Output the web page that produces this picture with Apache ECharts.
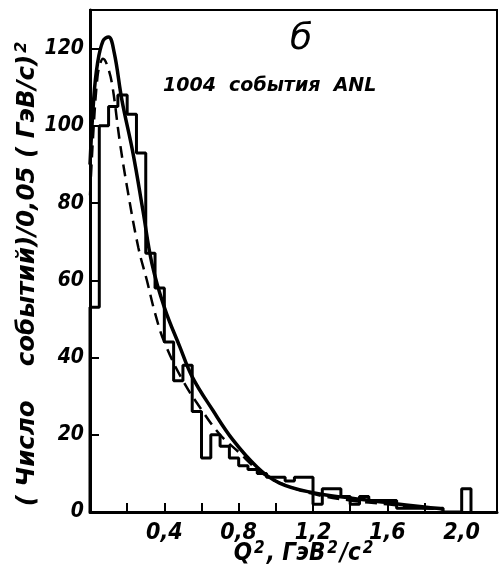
<!DOCTYPE html>
<html><head><meta charset="utf-8">
<script src="https://cdn.jsdelivr.net/npm/echarts@6/dist/echarts.min.js"></script>
<style>html,body{margin:0;padding:0;background:#fff}#c{width:500px;height:569px}</style>
</head><body><div id="c"></div>
<script>
// ---- data ----
const binWidth = 0.05;
const histCounts = [53,100,105,108,103,93,67,58,44,34,38,26,14,20,17,14,12,11,10,9,9,8,9,9,2,6,6,4,2,4,3,3,3,1,1,1,1,1,0,0,6];
const solidCurve = [[0,90],[0.02,107],[0.04,116],[0.07,122],[0.1,123],[0.13,119],[0.172,106.6],[0.231,93],[0.285,78],[0.333,64.4],[0.4,53],[0.484,42.7],[0.55,35],[0.66,26.4],[0.77,18.6],[0.9,11.6],[1.02,7.5],[1.2,5],[1.4,3.6],[1.6,2.4],[1.8,1.3],[1.9,0.8]];
const dashedCurve = [[0,82],[0.02,100],[0.04,112.6],[0.054,116],[0.07,117.4],[0.09,116],[0.118,111],[0.16,96],[0.2,84],[0.26,68.5],[0.306,60],[0.35,51.5],[0.4,44],[0.5,34],[0.6,26.5],[0.7,20],[0.8,15.5],[0.9,11],[1.0,8],[1.2,4.7],[1.4,3],[1.6,2],[1.8,1],[1.9,0.7]];
const xLabelTicks = [0.4,0.8,1.2,1.6,2.0];
const yLabelTicks = [0,20,40,60,80,100,120];
const panelLabel = 'б';
const noteText = '1004  события  ANL';

// ---- build histogram step line ----
const histData = [[0,0]];
histCounts.forEach((v,i)=>histData.push([+(i*binWidth).toFixed(3), v]));
const lastEdge = +(histCounts.length*binWidth).toFixed(3);
histData.push([lastEdge, histCounts[histCounts.length-1]]);
histData.push([lastEdge, 0]);

const FN = '"Liberation Sans Narrow","DejaVu Sans Condensed",sans-serif';
const FC = '"DejaVu Sans Condensed","DejaVu Sans",sans-serif';
const FW = '"DejaVu Sans",sans-serif';
const near = (v, arr) => arr.some(t => Math.abs(t - v) < 1e-6);

const chart = echarts.init(document.getElementById('c'), null, {renderer:'canvas'});
chart.setOption({
  backgroundColor:'#fff',
  animation:false,
  grid:{left:90, right:3, top:10, bottom:57, outerBoundsMode:'none', containLabel:false, show:true, borderColor:'#000', borderWidth:2, backgroundColor:'transparent'},
  xAxis:{
    type:'value', min:0, max:2.19, interval:0.2,
    splitLine:{show:false},
    axisLine:{lineStyle:{color:'#000', width:3}},
    axisTick:{inside:true, length:9, lineStyle:{color:'#000', width:2}},
    axisLabel:{margin:10, color:'#000', fontFamily:FN, fontStyle:'italic', fontWeight:'bold', fontSize:23,
      formatter:v=> near(v, xLabelTicks) ? v.toFixed(1).replace('.',',') : ''},
    name:'{b|Q}{s|2}{b|, ГэВ}{s|2}{b|/с}{s|2}', nameLocation:'middle', nameGap:28, nameMoveOverlap:false,
    nameTextStyle:{padding:[0,0,0,22], rich:{
      b:{fontFamily:FC, fontStyle:'italic', fontWeight:'bold', fontSize:24, color:'#000', verticalAlign:'bottom'},
      s:{fontFamily:FC, fontStyle:'italic', fontWeight:'bold', fontSize:17, color:'#000', verticalAlign:'top', padding:[0,2,9,2]}
    }}
  },
  yAxis:{
    type:'value', min:0, max:130, interval:20,
    splitLine:{show:false},
    axisLine:{lineStyle:{color:'#000', width:3}},
    axisTick:{inside:true, length:9, lineStyle:{color:'#000', width:2}},
    axisLabel:{margin:6, color:'#000', fontFamily:FN, fontStyle:'italic', fontWeight:'bold', fontSize:21,
      formatter:v=> near(v, yLabelTicks) ? String(v) : ''},
    name:'{b|( Число    событий)/0,05 ( ГэВ/с)}{s|2}', nameLocation:'middle', nameGap:48, nameRotate:90, nameMoveOverlap:false,
    nameTextStyle:{padding:[0,26,0,0], rich:{
      b:{fontFamily:FW, fontStyle:'italic', fontWeight:'bold', fontSize:24.5, color:'#000'},
      s:{fontFamily:FW, fontStyle:'italic', fontWeight:'bold', fontSize:16, color:'#000', padding:[0,0,12,2]}
    }}
  },
  graphic:[
    {type:'text', left:290, top:22, style:{text:panelLabel, fontFamily:FW, fontStyle:'italic', fontSize:36, fill:'#000'}},
    {type:'text', left:163, top:77, style:{text:noteText, fontFamily:FW, fontStyle:'italic', fontWeight:'bold', fontSize:19, fill:'#000'}}
  ],
  series:[
    {type:'line', data:histData, step:'end', symbol:'none', lineStyle:{color:'#000', width:3}, z:3},
    {type:'line', data:solidCurve, smooth:0.4, symbol:'none', lineStyle:{color:'#000', width:3.5}, z:4},
    {type:'line', data:dashedCurve, smooth:0.4, symbol:'none', lineStyle:{color:'#000', width:2.5, type:[12,7]}, z:4}
  ]
});
</script></body></html>
